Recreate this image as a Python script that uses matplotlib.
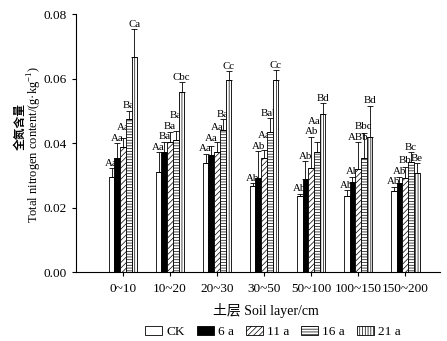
import numpy as np
import matplotlib.pyplot as plt

# --- data ---
layers = ['0~10', '10~20', '20~30', '30~50', '50~100', '100~150', '150~200']
years = ['CK', '6 a', '11 a', '16 a', '21 a']

ck = [0.0295, 0.0310, 0.0338, 0.0267, 0.0236, 0.0236, 0.0251]
y6 = [0.0353, 0.0372, 0.0363, 0.0291, 0.0288, 0.0279, 0.0276]
y11 = [0.0388, 0.0403, 0.0372, 0.0353, 0.0322, 0.0319, 0.0291]
y16 = [0.0474, 0.0410, 0.0440, 0.0434, 0.0372, 0.0353, 0.0341]
y21 = [0.0667, 0.0558, 0.0595, 0.0595, 0.0490, 0.0419, 0.0307]

ck_err = [0.0027, 0.0062, 0.0028, 0.0009, 0.0006, 0.0018, 0.0013]
y6_err = [0.0047, 0.0031, 0.0028, 0.0084, 0.0056, 0.0016, 0.0019]
y11_err = [0.0027, 0.0031, 0.0030, 0.0025, 0.0097, 0.0084, 0.0035]
y16_err = [0.0026, 0.0027, 0.0034, 0.0043, 0.0031, 0.0078, 0.0031]
y21_err = [0.0086, 0.0031, 0.0028, 0.0031, 0.0034, 0.0096, 0.0031]

ck_lab = ['Aa', 'Aa', 'Aa', 'Ab', 'Ab', 'Ab', 'Ab']
y6_lab = ['Aa', 'Ba', 'Aa', 'Ab', 'Ab', 'Ab', 'Ab']
y11_lab = ['Aa', 'Ba', 'Aa', 'Aa', 'Ab', 'ABb', 'Bb']
y16_lab = ['Ba', 'Ba', 'Ba', 'Bab', 'Aab', 'Bbc', 'Bc']
y21_lab = ['Ca', 'Cbc', 'Cc', 'Cc', 'Bd', 'Bd', 'Be']

means = [ck, y6, y11, y16, y21]
errs = [ck_err, y6_err, y11_err, y16_err, y21_err]
labels = [ck_lab, y6_lab, y11_lab, y16_lab, y21_lab]
faces = ['white', 'black', 'white', 'white', 'white']
hatches = [None, None, '//////', '------', '||||||']

# --- style ---
plt.rcParams['font.family'] = ['Liberation Serif', 'Noto Sans CJK SC']
plt.rcParams['mathtext.fontset'] = 'custom'
plt.rcParams['mathtext.rm'] = 'Liberation Serif'
plt.rcParams['hatch.linewidth'] = 0.5

fig = plt.figure(figsize=(4.47, 3.41), dpi=100)
ax = fig.add_axes([0.170, 0.2023, 0.8143, 0.7566])

x = np.arange(len(layers))
w = 0.122
pad = 0.00155
gap = 0.00326

handles = []
for i in range(len(years)):
    pos = x + (i - 2) * w
    b = ax.bar(pos, means[i], w, color=faces[i], edgecolor='black',
               hatch=hatches[i], linewidth=0.6, zorder=2, label=years[i])
    handles.append(b)
    ax.errorbar(pos, means[i], yerr=[np.zeros(len(x)), errs[i]], fmt='none',
                ecolor='black', elinewidth=0.6, capsize=2, capthick=0.6, zorder=3)

# significance letters above the error bars
for g in range(len(layers)):
    prev = None
    for i in range(len(years)):
        y = means[i][g] + errs[i][g] + pad
        if prev is not None and prev - gap < y < prev + gap:
            y = prev + gap
        ax.text(x[g] + (i - 2) * w, y, labels[i][g], ha='center', va='center',
                fontsize=7.8, zorder=1)
        prev = y

ax.set_xlim(-1.0, 6.74)
ax.set_ylim(0, 0.08)
ax.set_yticks([0, 0.02, 0.04, 0.06, 0.08])
ax.set_yticklabels(['0.00', '0.02', '0.04', '0.06', '0.08'])
ax.set_xticks(x)
ax.set_xticklabels(layers)
ax.tick_params(labelsize=9.5, length=3, width=0.8, direction='out')
ax.tick_params(axis='x', pad=5)
for s in ['top', 'right']:
    ax.spines[s].set_visible(False)
for s in ['left', 'bottom']:
    ax.spines[s].set_linewidth(0.8)

fig.text(266 / 447, 1 - 310 / 341, '土层 Soil layer/cm', ha='center', va='center', fontsize=10)
fig.text(20 / 447, 1 - 127 / 341, '全氮含量', rotation=90, ha='center', va='center',
         fontsize=8.5, fontweight='bold', family=['Noto Sans CJK SC'])
fig.text(35 / 447, 1 - 145 / 341, 'Total nitrogen content/(g·kg$^{-1}$)', rotation=90,
         ha='center', va='center', fontsize=9)

fig.legend(handles=handles, loc='center', bbox_to_anchor=(273 / 447, 1 - 332 / 341),
           ncol=5, frameon=False, fontsize=9.5, handlelength=1.3, handleheight=0.6,
           columnspacing=0.9, handletextpad=0.3, borderaxespad=0)

fig.savefig('out.png', dpi=100)
